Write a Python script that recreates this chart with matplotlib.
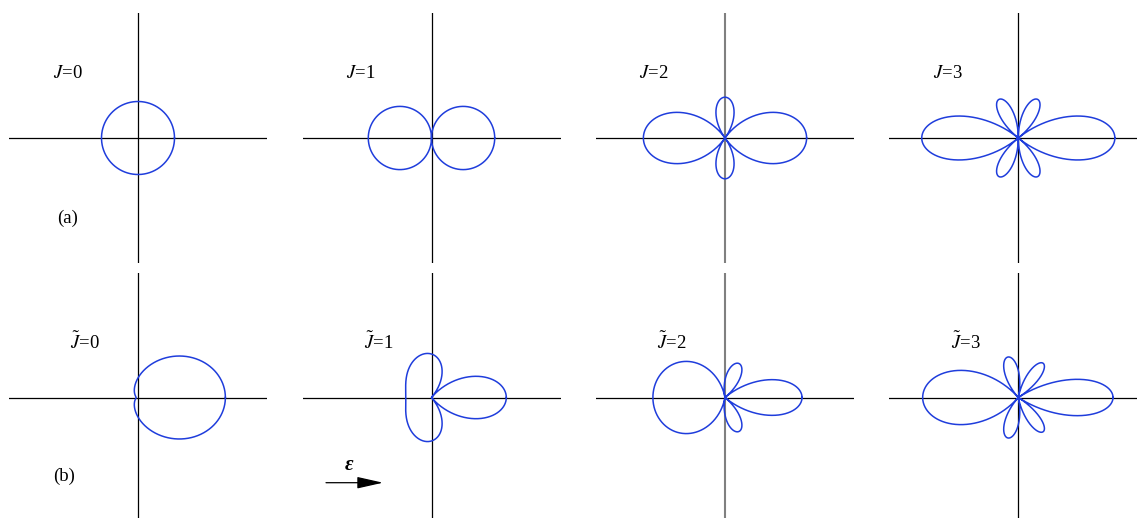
import numpy as np
import matplotlib
matplotlib.use('Agg')
import matplotlib.pyplot as plt
from matplotlib.patches import FancyArrowPatch
from numpy.polynomial import legendre as L

W, H = 1137, 518
S = 36.5  # pixels per unit amplitude

plt.rcParams['font.family'] = ['Liberation Serif', 'DejaVu Serif']
plt.rcParams['mathtext.fontset'] = 'stix'

# panel labels
top_labels = [r'$J$=0', r'$J$=1', r'$J$=2', r'$J$=3']
bottom_labels = [r'$\tilde{J}$=0', r'$\tilde{J}$=1', r'$\tilde{J}$=2', r'$\tilde{J}$=3']

# amplitudes c_J of Y_J0 for each state (row a: free rotor, row b: pendular states)
top_coeffs_J0 = [1.0]
top_coeffs_J1 = [0.0, 1.0]
top_coeffs_J2 = [0.0, 0.0, 1.0]
top_coeffs_J3 = [0.0, 0.0, 0.0, 1.0]
bottom_coeffs_J0 = [0.7569, 0.6203, 0.2025, 0.0365, 0.0041, 0.0003]
bottom_coeffs_J1 = [0.6091, -0.5567, -0.5432, -0.1532, -0.0225, -0.0021]
bottom_coeffs_J2 = [0.2356, -0.5424, 0.7124, 0.3710, 0.0715, 0.0077]
bottom_coeffs_J3 = [-0.0247, 0.1052, -0.3915, 0.8635, 0.2959, 0.0425]

top_coeffs = [top_coeffs_J0, top_coeffs_J1, top_coeffs_J2, top_coeffs_J3]
bottom_coeffs = [bottom_coeffs_J0, bottom_coeffs_J1, bottom_coeffs_J2, bottom_coeffs_J3]

col_x = [138, 431.5, 725, 1018.3]
row_y = [138, 397.5]
hx, hy = 129, 125
curve_color = '#1f3ddc'

fig = plt.figure(figsize=(W / 100, H / 100), dpi=100)


def panel(cx, cy, coeffs, vcolor='black', vlw=0.9):
    ax = fig.add_axes([(cx - hx) / W, 1 - (cy + hy) / H, 2 * hx / W, 2 * hy / H])
    ax.set_xlim(-hx / S, hx / S)
    ax.set_ylim(-hy / S, hy / S)
    ax.axis('off')
    ax.axhline(0, color='black', lw=0.9)
    ax.axvline(0, color=vcolor, lw=vlw)
    c = np.asarray(coeffs, float)
    c = c * np.sqrt(2 * np.arange(len(c)) + 1)
    t = np.linspace(0, 2 * np.pi, 3000)
    r = np.abs(L.legval(np.cos(t), c))
    ax.plot(r * np.cos(t), r * np.sin(t), color=curve_color, lw=1.1)
    return ax


for i in range(4):
    vc = '#808080' if i == 2 else 'black'
    vl = 1.5 if i == 2 else 0.9
    panel(col_x[i], row_y[0], top_coeffs[i], vc, vl)
    panel(col_x[i], row_y[1], bottom_coeffs[i], vc, vl)

top_lab_x = [53, 346, 639, 933]
bot_lab_x = [70, 364, 657, 951]
for i in range(4):
    fig.text(top_lab_x[i] / W, 1 - 73 / H, top_labels[i], fontsize=13.5, ha='left', va='center')
    fig.text(bot_lab_x[i] / W, 1 - 342 / H, bottom_labels[i], fontsize=13.5, ha='left', va='center')

fig.text(67.5 / W, 1 - 218 / H, '(a)', fontsize=13.5, ha='center', va='center')
fig.text(64 / W, 1 - 476 / H, '(b)', fontsize=13.5, ha='center', va='center')
fig.text(349 / W, 1 - 465 / H, 'ε', fontsize=15, ha='center', va='center', style='italic', weight='bold')
fig.add_artist(FancyArrowPatch((326 / W, 1 - 482.7 / H), (383 / W, 1 - 482.7 / H),
               transform=fig.transFigure, arrowstyle='-|>,head_length=0.8,head_width=0.18',
               mutation_scale=20, color='black', lw=0.9, shrinkA=0, shrinkB=0))

fig.savefig('out.png', dpi=100)
